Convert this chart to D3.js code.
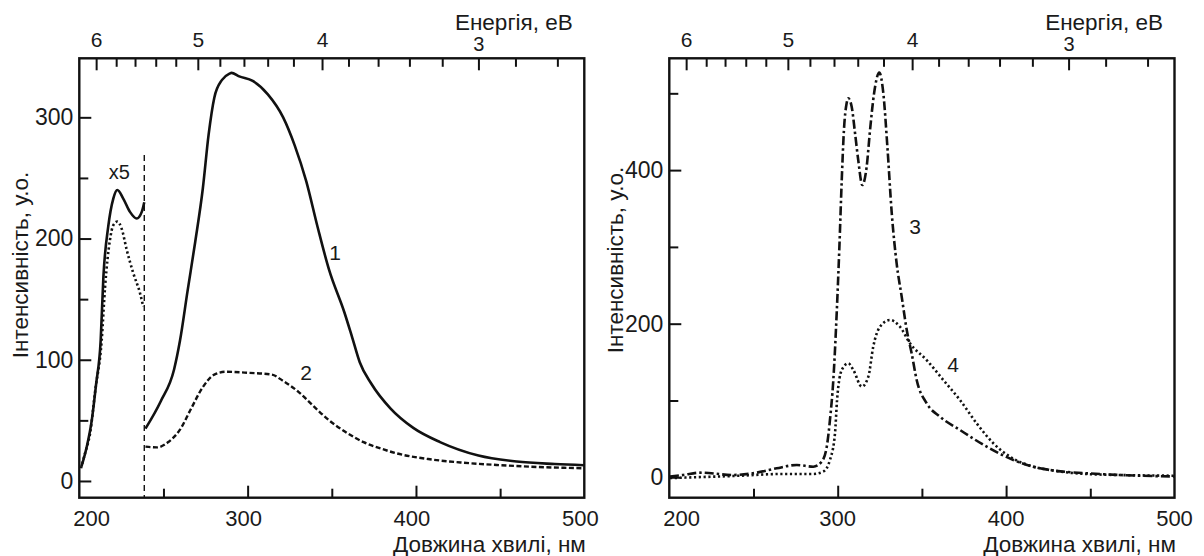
<!DOCTYPE html>
<html>
<head>
<meta charset="utf-8">
<script src="https://cdn.jsdelivr.net/npm/d3@7"></script>
<style>
  body { margin: 0; background: #fff; }
  text { font-family: "Liberation Sans", Arial, sans-serif; fill: #1a1a1a; }
</style>
</head>
<body>
<div id="chart"></div>
<script>
// left panel: curve 1 (solid) and curve 2 (dashed / dotted x5 part)
var wl1a = [201.3, 204.4, 207.4, 210, 212.7, 214.3, 217.2, 220.2, 222.6, 226.1, 230.1, 234.1, 237.1, 238.6]
var int1a = [12, 28, 50, 80, 116, 168, 210, 233, 240, 233, 222, 216.5, 222, 230]
var wl1b = [239.3, 248.4, 256.3, 259.8, 264.3, 268.9, 273.4, 276.8, 280.2, 284.8, 289.3, 290.4, 295, 303, 312, 321.1, 328, 334.8, 341.6, 348.4, 357.5, 362.1, 366.6, 373.4, 384.8, 398.4, 414.3, 437.1, 459.8, 482.5, 500]
var int1b = [43.2, 65.8, 92, 115.6, 156.6, 197.6, 241.5, 285.5, 316.2, 330.9, 336.1, 336.7, 333.8, 330, 319, 300, 276.7, 247.4, 209.3, 174.1, 139, 118.5, 98, 80.4, 59.9, 43.8, 32.1, 21, 16, 14, 13]
var wl2a = [201, 203.4, 206.4, 209.5, 213.3, 215.3, 218.2, 220.2, 222.6, 225.2, 228.2, 232.1, 236.1, 238]
var int2a = [10.5, 22.8, 39.3, 75, 116, 160, 198.8, 211, 214, 208, 190.5, 171.3, 154.8, 143.8]
var wl2b = [239.3, 246.1, 252.9, 259.8, 266.5, 273.4, 280.2, 287, 300.7, 314.3, 321.1, 330.2, 339.3, 348.4, 357.5, 368.9, 380.3, 388.5, 408.3, 428.1, 448, 467.7, 500]
var int2b = [28.3, 27.7, 32.1, 42.3, 59.9, 77.5, 87.8, 90.1, 89.2, 87.8, 82.5, 73.5, 61.5, 50, 41, 32, 26.2, 22.8, 17.9, 15.1, 13.2, 11.8, 10.5]

// right panel: curve 3 (dash-dot) and curve 4 (dotted)
var wl3 = [200.4, 208.3, 218.2, 238, 251.9, 263.8, 275.7, 285.5, 290.5, 293.5, 295.4, 297.4, 299.4, 301, 302.4, 303.7, 305.3, 306.3, 308.3, 310.3, 312.2, 314.6, 317.2, 319.2, 321.6, 324.7, 327.1, 329.5, 332.1, 335, 338, 341, 343.9, 346.9, 352.8, 360.7, 372.6, 388.5, 404.3, 420.1, 426, 456.2, 500]
var int3 = [1, 3, 6, 3, 6, 11.7, 16, 13.8, 20.3, 39.8, 74.6, 126.7, 213.5, 300, 387, 452, 487, 493.5, 482.6, 448, 413, 380.6, 404.4, 452, 500, 527, 500, 430.5, 343.8, 278.6, 235.2, 191.8, 161.5, 126.7, 96.4, 78.9, 61.6, 39.8, 22.5, 11.7, 9.5, 4.2, 1]
var wl4 = [200.4, 238, 267.7, 285.5, 291.4, 295.4, 298.4, 299.6, 302.4, 306.3, 309.3, 314.3, 318.2, 321.1, 325.1, 331.1, 337, 342.9, 352.8, 362.7, 372.6, 382.5, 392.4, 402.3, 416.2, 426, 450, 500]
var int4 = [-1, 1.7, 4.3, 4.3, 7.3, 22.5, 57.3, 100, 139.7, 148.4, 139.7, 118, 131, 170, 196, 204.8, 196, 174.5, 152.7, 126.7, 100.6, 70.3, 44.3, 26.8, 13.8, 9.5, 4, 2]

// top axis: energy ticks and where they sit on the wavelength scale
var energyTicks = [6.0, 5.8, 5.6, 5.4, 5.2, 5.0, 4.8, 4.6, 4.4, 4.2, 4.0, 3.8, 3.6, 3.4, 3.2, 3.0, 2.8, 2.6]
var energyNm = [210.3, 222.2, 233.4, 245.7, 257.6, 270.7, 283.8, 298.1, 312.2, 327.5, 344.5, 360.2, 377.8, 396.4, 415.9, 437.4, 459.4, 484.3]

var xMajor = [300, 400]
var xMinor = [250, 350, 450]

var svg = d3.select("#chart").append("svg")
    .attr("width", 1204)
    .attr("height", 556)

function zip(a, b) {
    return a.map(function(d, i) { return [d, b[i]] })
}

function panel(cfg) {
    var x = d3.scaleLinear().domain([200, 500]).range(cfg.xr)
    var y = d3.scaleLinear().domain(cfg.yd).range([497.7, 58.3])
    var g = svg.append("g")

    // y axis, ticks pointing inward
    g.append("g")
        .attr("transform", "translate(" + cfg.xr[0] + ",0)")
        .call(d3.axisLeft(y).tickValues(cfg.yMajor).tickSize(-12).tickPadding(6).tickFormat(d3.format("d")))
        .call(function(a) { a.select(".domain").remove() })
        .call(function(a) { a.selectAll("line").attr("stroke", "#111").attr("stroke-width", 2) })
        .call(function(a) { a.selectAll("text").style("font-size", "23px").attr("fill", "#1a1a1a") })
    g.append("g")
        .attr("transform", "translate(" + cfg.xr[0] + ",0)")
        .call(d3.axisLeft(y).tickValues(cfg.yMinor).tickSize(-9).tickFormat(""))
        .call(function(a) { a.select(".domain").remove() })
        .call(function(a) { a.selectAll("line").attr("stroke", "#111").attr("stroke-width", 2) })

    // bottom axis
    var bx = g.append("g")
        .attr("transform", "translate(0,497.7)")
        .call(d3.axisBottom(x).tickValues(xMajor).tickSize(-12).tickFormat(""))
    bx.select(".domain").remove()
    bx.selectAll("line").attr("stroke", "#111").attr("stroke-width", 2)
    var bm = g.append("g")
        .attr("transform", "translate(0,497.7)")
        .call(d3.axisBottom(x).tickValues(xMinor).tickSize(-9).tickFormat(""))
    bm.select(".domain").remove()
    bm.selectAll("line").attr("stroke", "#111").attr("stroke-width", 2)

    g.selectAll(".xlab")
        .data([200, 300, 400, 500])
        .enter().append("text")
        .attr("class", "xlab")
        .attr("x", function(d) { return d == 200 ? x(d) - 6 : x(d) + cfg.labShift })
        .attr("y", 525.5)
        .attr("text-anchor", function(d) { return d == 200 ? "start" : "middle" })
        .style("font-size", "22px")
        .text(function(d) { return d })

    // top energy axis
    var tx = g.append("g")
        .attr("transform", "translate(0,58.3)")
    tx.selectAll("line")
        .data(energyTicks)
        .enter().append("line")
        .attr("x1", function(d, i) { return x(energyNm[i]) })
        .attr("x2", function(d, i) { return x(energyNm[i]) })
        .attr("y1", 0)
        .attr("y2", function(d) { return Math.abs(d - Math.round(d)) < 0.01 ? 12 : 8.5 })
        .attr("stroke", "#111")
        .attr("stroke-width", 2)
    tx.selectAll("text")
        .data(energyTicks.filter(function(d) { return Math.abs(d - Math.round(d)) < 0.01 }))
        .enter().append("text")
        .attr("x", function(d) { return x(energyNm[energyTicks.indexOf(d)]) })
        .attr("y", function(d) { return d == 3 ? -7.5 : -11 })
        .attr("text-anchor", "middle")
        .style("font-size", function(d) { return d == 3 ? "20px" : "21px" })
        .text(function(d) { return d3.format("d")(d) })

    // frame
    g.append("rect")
        .attr("x", cfg.xr[0])
        .attr("y", 58.3)
        .attr("width", cfg.xr[1] - cfg.xr[0])
        .attr("height", 497.7 - 58.3)
        .attr("fill", "none")
        .attr("stroke", "#111")
        .attr("stroke-width", 2.4)

    // titles
    g.append("text")
        .attr("x", cfg.xr[1] - 11.5)
        .attr("y", 29.5)
        .attr("text-anchor", "end")
        .style("font-size", "22.5px")
        .text("Енергія, еВ")
    g.append("text")
        .attr("x", cfg.xr[1] + 1.5)
        .attr("y", 551.5)
        .attr("text-anchor", "end")
        .style("font-size", "22.5px")
        .text("Довжина хвилі, нм")
    g.append("text")
        .attr("transform", "translate(" + cfg.ytX + "," + cfg.ytY + ") rotate(-90)")
        .attr("text-anchor", "middle")
        .attr("dy", "0.35em")
        .style("font-size", "22.5px")
        .text("Інтенсивність, у.о.")

    var line = d3.line()
        .x(function(d) { return x(d[0]) })
        .y(function(d) { return y(d[1]) })
        .curve(d3.curveMonotoneX)

    cfg.series.forEach(function(s) {
        g.append("path")
            .datum(zip(s.wl, s.v))
            .attr("d", line)
            .attr("fill", "none")
            .attr("stroke", "#111")
            .attr("stroke-width", s.w)
            .attr("stroke-dasharray", s.dash)
            .attr("stroke-linejoin", "round")
    })

    cfg.labels.forEach(function(l) {
        g.append("text")
            .attr("x", l.x)
            .attr("y", l.y)
            .attr("text-anchor", "middle")
            .attr("dy", "0.35em")
            .style("font-size", l.size)
            .text(l.t)
    })

    return { x: x, y: y, g: g }
}

var left = panel({
    xr: [79.3, 584.3],
    yd: [-13.8, 348.7],
    yMajor: [0, 100, 200, 300],
    yMinor: [50, 150, 250],
    labShift: -4,
    ytX: 20, ytY: 265,
    series: [
        { wl: wl1a, v: int1a, w: 2.6, dash: null },
        { wl: wl1b, v: int1b, w: 2.6, dash: null },
        { wl: wl2a, v: int2a, w: 2.6, dash: "2.2,2.6" },
        { wl: wl2b, v: int2b, w: 2.4, dash: "5,2.5" }
    ],
    labels: [
        { t: "x5", x: 119.3, y: 172.3, size: "20px" },
        { t: "1", x: 335, y: 253, size: "21px" },
        { t: "2", x: 306, y: 373, size: "21px" }
    ]
})

// boundary of the x5 region
left.g.append("line")
    .attr("x1", left.x(238.6))
    .attr("x2", left.x(238.6))
    .attr("y1", 155)
    .attr("y2", 497.7)
    .attr("stroke", "#111")
    .attr("stroke-width", 1.4)
    .attr("stroke-dasharray", "6,4")

panel({
    xr: [669.3, 1174.5],
    yd: [-26.6, 545.6],
    yMajor: [0, 200, 400],
    yMinor: [100, 300, 500],
    labShift: 0,
    ytX: 615, ytY: 260,
    series: [
        { wl: wl3, v: int3, w: 2.6, dash: "9,3,2.5,3" },
        { wl: wl4, v: int4, w: 2.6, dash: "2.2,2.6" }
    ],
    labels: [
        { t: "3", x: 915, y: 227, size: "21px" },
        { t: "4", x: 953, y: 365, size: "21px" }
    ]
})
</script>
</body>
</html>
